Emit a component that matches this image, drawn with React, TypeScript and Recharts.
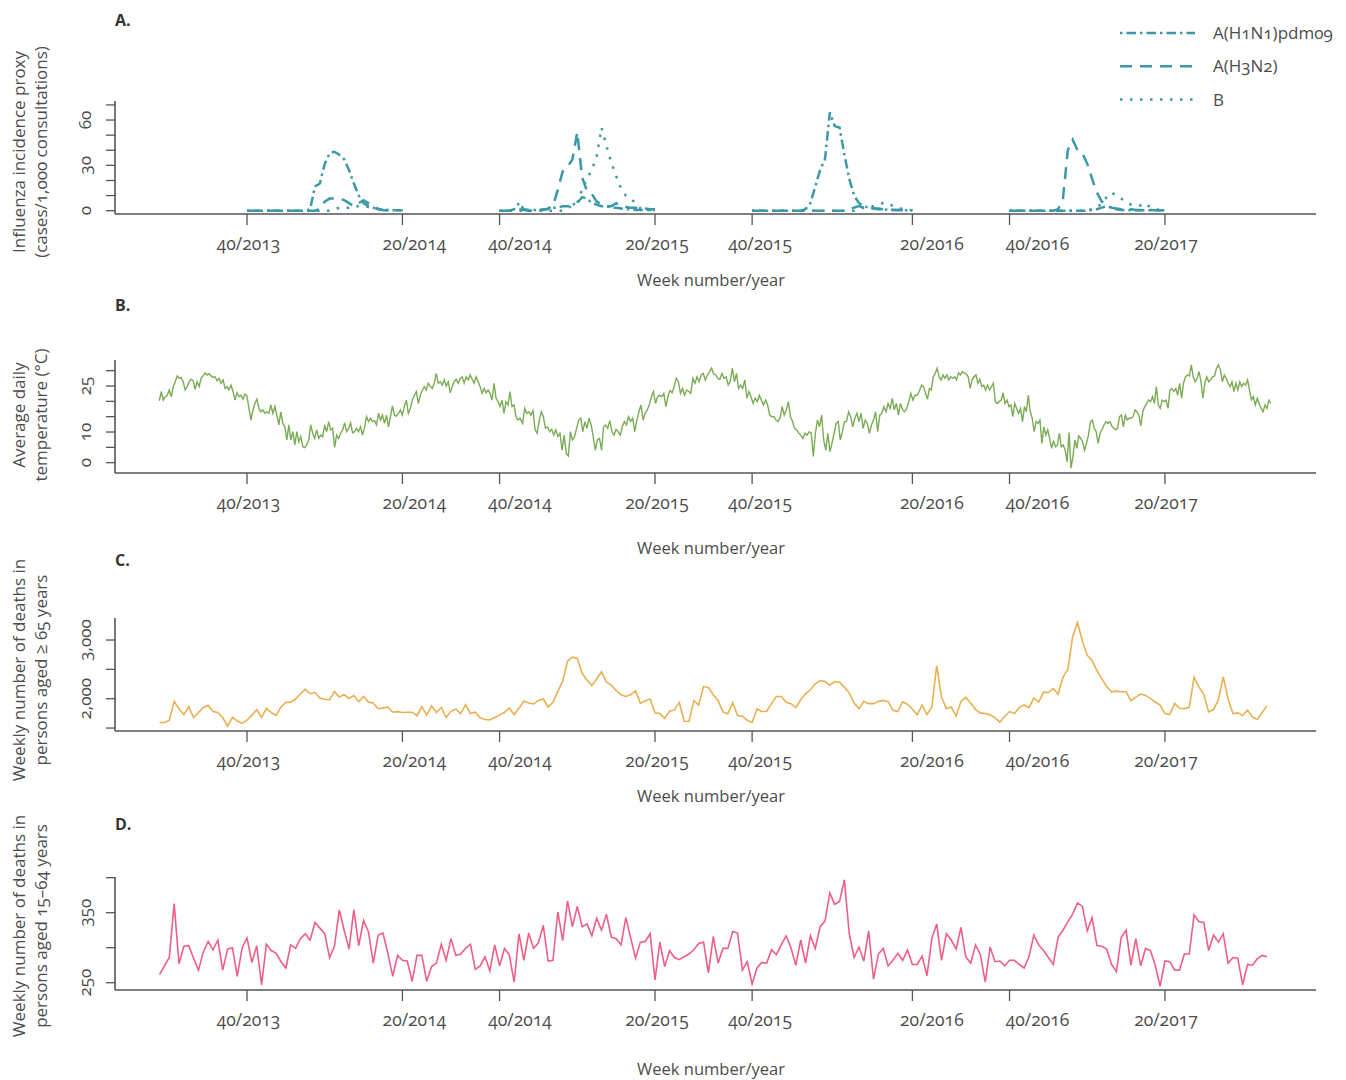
import React from 'react'
import { LineChart, Line, XAxis, YAxis } from 'recharts'

const FONT = "'Open Sans', 'DejaVu Sans', sans-serif"
const TEXT = '#4d4d4d'
const AXIS = '#555555'
const TEAL = '#3a98a7'
const GREEN = '#7aab55'
const ORANGE = '#e9b052'
const PINK = '#ef5e86'

// x is a week index: 0 = week 22/2013
const WEEK_TICKS = [18, 50, 70, 102, 122, 155, 175, 207]
const WEEK_TICK_LABELS = ['40/2013', '20/2014', '40/2014', '20/2015', '40/2015', '20/2016', '40/2016', '20/2017']
// in the original the labels sit a little right of their tick marks
const LABEL_SHIFT = [1.5, 12, 20.5, 2, 8, 19.5, 28, 1]
const X_DOMAIN: [number, number] = [-9.18, 238.1]

// A. influenza incidence proxy, one list per season (week 40 -> week 20)
const SEASON_START = [18, 70, 122, 175]
const H1N1 = [
  [0, 0, 0, 0, 0, 0, 0, 0, 0, 0, 0, 0, 0, 1, 16, 18, 31, 38, 39, 37, 34, 27, 18, 10, 5, 3, 2, 1, 0.5, 0.3, 0.2, 0.2, 0.2],
  [0, 0, 0, 1, 5, 1, 0.5, 0.5, 0.5, 1, 1, 2, 2, 3, 3, 4, 5, 9, 8, 5, 4, 3, 3, 2, 2, 1.5, 1, 1, 0.5, 0.5, 0.5, 0.5, 0.5],
  [0, 0, 0, 0, 0, 0, 0, 0, 0, 0, 0, 1, 5, 16, 27, 34, 65, 56, 55, 37, 21, 10, 5, 3, 2, 1.5, 1, 1, 0.5, 0.5, 0.5, 0.3, 0.3, 0.3],
  [0, 0, 0, 0, 0, 0, 0, 0, 0, 0, 0, 0, 0, 0, 0, 0, 0, 0.5, 1, 2, 3, 2, 1, 0.5, 0.3, 0.3, 0.3, 0.3, 0.3, 0.3, 0.3, 0.3, 0.3],
]
const H3N2 = [
  [0, 0, 0, 0, 0, 0, 0, 0, 0, 0, 0, 0, 0, 0, 0, 1, 6, 8, 8, 8, 7, 5, 3, 5, 7, 5, 2, 1, 0.5, 0.3, 0.2, 0.2, 0.2],
  [0, 0, 0, 0, 1, 0.5, 0, 0, 0, 0.5, 1.5, 3, 14, 26, 29, 34, 52, 22, 13, 11, 6, 4, 3, 3, 5, 3, 2.5, 2, 2, 1.5, 1.5, 1, 1],
  [0, 0, 0, 0, 0, 0, 0, 0, 0, 0, 0, 0, 0, 0, 0, 0, 0, 0, 0, 0, 1, 2, 3, 2, 2, 1.5, 1.5, 1, 1, 0.5, 0.5, 0.3, 0.3, 0.3],
  [0, 0, 0, 0, 0, 0, 0, 0, 0, 0, 1, 8, 40, 47, 40, 38, 31, 21, 12, 6, 4, 2, 1.5, 1, 1, 1, 0.5, 0.5, 0.5, 0.5, 0.3, 0.3, 0.3],
]
const FLU_B = [
  [0, 0, 0, 0, 0, 0, 0, 0, 0, 0, 0, 0, 0, 0, 0, 0, 0, 0, 1, 2, 2, 2, 3, 3, 3, 2.5, 2, 1.5, 1, 0.5, 0.3, 0.2, 0.2],
  [0, 0, 0, 0, 0, 0, 0, 0, 0, 0, 0, 0, 0, 0, 2, 3, 5, 14, 21, 27, 36, 55, 43, 32, 23, 15, 10, 8, 5, 1.5, 1, 0.5, 0.5],
  [0, 0, 0, 0, 0, 0, 0, 0, 0, 0, 0, 0, 0, 0, 0, 0, 0, 0, 0, 0, 0, 0, 1, 2, 3, 3, 4, 5, 5, 3, 2, 1, 0.5, 0.3],
  [0, 0, 0, 0, 0, 0, 0, 0, 0, 0, 0, 0, 0, 0, 0, 0, 0, 1, 2, 5, 9, 12, 10, 8, 6, 4, 4, 3.5, 5, 2, 1, 0.5, 0.5],
]

const TEMP_SPANS = [[-0.06, 74.2], [74.75, 156.4], [156.9, 228.8]]
const TEMP_2013_14 = [
  20.2, 23.2, 20.4, 21.5, 22, 23.7, 21.5, 24.8, 26.4, 28.3,
  27.5, 27.8, 26.4, 23.7, 24.8, 26.4, 27.2, 26.7, 23.9, 26.4,
  24.8, 27.5, 28.3, 29.3, 28.6, 29.1, 28.3, 27.8, 28, 26.7,
  27.5, 25.9, 27, 24.2, 24.8, 23.7, 25.3, 23.2, 20.4, 22.8,
  21.5, 22, 20.7, 22.4, 21.7, 17.7, 13.9, 17.2, 19.3, 20.7,
  17.7, 16.6, 17.2, 16.1, 16.6, 16.1, 18.8, 16.1, 18.3, 15.5,
  12.3, 16.6, 12.8, 11.7, 7.4, 12.3, 7.4, 10.1, 5.8, 10.1,
  6.8, 8.5, 5.2, 4.9, 5.8, 7.4, 12.3, 9.6, 7.9, 10.7,
  7.9, 9, 8.5, 12.3, 10.1, 13.4, 10.7, 11.2, 5, 9,
  7.9, 9.6, 10.7, 13, 10.1, 11.2, 13, 9.8, 10.1, 11.2,
  10.1, 11.7, 9, 11.5, 15, 13.4, 14.5, 13.4, 13.7, 12.3,
  16.1, 13.9, 15.5, 12.8, 15.5, 11.7, 15, 18.5, 15.5, 15.2,
  16.1, 17.2, 15.5, 18.5, 20.4, 16.1, 17.7, 20.4, 22, 23.2,
  19.3, 22, 23.7, 24.8, 23.7, 25.9, 24.8, 24.2, 25.9, 29.1,
  25.9, 26.4, 25.3, 27, 25, 26.4, 22.8, 24.8, 26.4, 27.2,
  25.9, 27.5, 28, 25.9, 28, 27, 28.6, 27.2, 25.9, 28,
  26.4, 24.8, 22.6, 24.2, 22.8, 23.7, 22.6, 20.4, 25.9, 21,
  19.9, 18.3, 20.4, 16.1, 19.9, 18.8, 23.2, 18.3, 18.8, 15,
  13.9, 14.5,
]
const TEMP_2014_16 = [
  12.8, 17.7, 16.1, 16.6, 15.5, 17, 10.7, 9.6, 13.9, 16.6,
  15, 11.2, 11.7, 10.1, 10.9, 9, 10.7, 8.5, 9.6, 4.1,
  9, 3, 2.2, 10.1, 7.4, 8.5, 11.2, 13.9, 14.5, 10.1,
  13.4, 11.2, 14.5, 12.3, 8.5, 4.1, 7.4, 7.9, 4.1, 11.7,
  12.3, 11.2, 13.7, 10.1, 9, 10.9, 10.1, 9, 11.7, 13.4,
  12.3, 15, 13.4, 14.5, 10.1, 13.9, 16.6, 18.8, 13.9, 16.1,
  17.2, 18.8, 21.5, 23.2, 19.3, 21.5, 22, 21.5, 22.6, 18.3,
  21.5, 23.5, 22.8, 24.8, 27.5, 26.4, 22.6, 24.2, 22, 23.7,
  23.2, 22.6, 27.5, 25.9, 28, 26.4, 28.6, 29.1, 27, 28.6,
  29.7, 30.8, 28.9, 28.6, 27.5, 27.2, 29.1, 27.5, 28, 25.3,
  26.4, 30.8, 26.4, 29.1, 24.2, 25.3, 24.2, 27, 21, 23.2,
  21.5, 19.3, 21, 19.9, 22, 20.4, 18.8, 20.4, 18.8, 15.5,
  15, 15, 13.9, 13.4, 14.5, 18.3, 15.5, 17.2, 19.9, 15,
  13.4, 11.2, 10.7, 9.6, 9, 7.9, 9.6, 9, 10.1, 9.6,
  2, 9.6, 13.9, 11.7, 15.5, 7.4, 4.1, 9.6, 3.6, 6.3,
  9.6, 12.8, 13.4, 7.4, 10.1, 13.4, 13.4, 16.6, 15, 11.7,
  14.5, 16.1, 13.4, 16.1, 11.2, 13.9, 12.8, 9.6, 12.3, 13.9,
  16.6, 10.1, 15.5, 16.1, 18.3, 16.6, 19.3, 17.7, 21, 17.2,
  19.3, 15.5, 19.3, 17.2, 16.6, 17.7, 19.9, 22.6, 20.4, 22,
  22, 23.2,
]
const TEMP_2016_17 = [
  25.3, 24.8, 22.6, 20.7, 24.2, 23.7, 28, 29.1, 30.8, 28,
  27, 28.6, 27.5, 28.6, 27, 28, 27.5, 28, 27, 29.3,
  28.6, 29.7, 29.3, 28.9, 28, 24.2, 27, 28, 28.6, 25.9,
  27.2, 24.8, 25.3, 23.7, 25.3, 23.7, 24.8, 25.9, 19.9, 19.3,
  19.9, 20.4, 22.8, 19.3, 20.4, 18.3, 18.8, 15, 19.3, 17.7,
  16.1, 17.7, 13.4, 18.3, 16.6, 22, 16.6, 14.5, 10.1, 13.4,
  12.8, 13.9, 6.3, 11.7, 9, 10.7, 7.9, 4.7, 7, 5.2,
  5.8, 9.6, 5.2, 5.8, 4.1, 0.3, 9.8, -1.8, 2, 7.4,
  4.7, 8.7, 7.9, 6.8, 4.1, 6.3, 9, 13.4, 13.9, 11.2,
  10.1, 6.3, 9.6, 10.9, 12.3, 13.4, 12.8, 13.4, 12, 11.2,
  10.7, 11.2, 15, 15.5, 11.7, 15.5, 13.9, 14.5, 14.5, 15,
  17.2, 16.6, 15.5, 12, 16.6, 18.3, 19.3, 20.4, 19.9, 21.5,
  19.3, 24.8, 18.8, 17.7, 20.4, 19.9, 20.4, 17.7, 23.7, 24.2,
  23.2, 24.2, 22, 25.9, 21, 25.9, 28, 28.6, 28.3, 31.9,
  28, 26.4, 27.5, 29.7, 26.4, 21, 25.9, 28, 26.4, 27,
  28, 28.3, 30.8, 31.9, 30.2, 26.4, 28.6, 27.5, 25.9, 24.8,
  26.4, 23.2, 25.9, 23.7, 26.4, 24.8, 25.9, 25.3, 27, 23.7,
  20.4, 21.5, 18.8, 21, 19.3, 17.7, 16.6, 18.8, 17.7, 20.4,
  19.3,
]

// C. weekly deaths, aged >= 65 (week 22/2013 onwards)
const DEATHS_65 = [
  1595, 1595, 1634, 1955, 1830, 1730, 1865, 1680, 1765, 1850,
  1890, 1780, 1765, 1680, 1533, 1680, 1620, 1580, 1634, 1720,
  1815, 1680, 1837, 1765, 1715, 1860, 1938, 1940, 1995, 2080,
  2163, 2085, 2105, 2010, 1990, 1985, 2120, 2030, 2070, 2005,
  2055, 1948, 2040, 1945, 1925, 1830, 1840, 1860, 1770, 1780,
  1765, 1770, 1770, 1710, 1865, 1720, 1880, 1765, 1850, 1680,
  1785, 1820, 1745, 1900, 1747, 1770, 1675, 1645, 1640, 1680,
  1720, 1765, 1843, 1730, 1836, 1960, 1927, 1910, 1972, 1995,
  1860, 1938, 2123, 2303, 2640, 2708, 2686, 2433, 2320, 2225,
  2337, 2460, 2281, 2231, 2140, 2067, 2039, 2067, 2135, 1921,
  1966, 1995, 1759, 1747, 1663, 1786, 1809, 1938, 1617, 1612,
  1966, 1893, 2207, 2191, 2067, 1966, 1775, 1742, 1933, 1713,
  1702, 1634, 1595, 1826, 1781, 1786, 1916, 2039, 2039, 1938,
  1916, 1848, 1983, 2084, 2152, 2253, 2308, 2292, 2231, 2292,
  2281, 2197, 2096, 1927, 1831, 1955, 1916, 1916, 1955, 1972,
  1950, 1803, 1781, 1949, 1904, 1826, 1725, 1893, 1730, 1860,
  2562, 2028, 1831, 1860, 1702, 1955, 2022, 1927, 1815, 1759,
  1747, 1725, 1675, 1600, 1702, 1781, 1747, 1848, 1893, 1848,
  2011, 1944, 2112, 2106, 2174, 2079, 2366, 2500, 3062, 3298,
  2983, 2742, 2646, 2478, 2337, 2208, 2118, 2129, 2118, 2118,
  1966, 2028, 2079, 2056, 2005, 1944, 1893, 1747, 1730, 1921,
  1836, 1831, 1854, 2366, 2197, 2073, 1775, 1815, 1983, 2371,
  1995, 1747, 1759, 1713, 1809, 1691, 1646, 1760, 1882,
]

// D. weekly deaths, aged 15-64
const DEATHS_15_64 = [
  262, 274, 286, 363, 277, 302, 303, 285, 268, 294,
  309, 297, 311, 268, 298, 300, 259, 300, 314, 279,
  303, 247, 305, 296, 292, 280, 271, 304, 299, 313,
  320, 311, 336, 328, 320, 286, 302, 354, 325, 298,
  354, 303, 339, 323, 278, 318, 321, 292, 259, 289,
  282, 281, 252, 289, 289, 252, 273, 278, 305, 282,
  313, 289, 291, 299, 305, 269, 274, 287, 267, 304,
  274, 299, 290, 251, 320, 282, 321, 299, 307, 332,
  281, 282, 351, 310, 367, 330, 359, 330, 334, 317,
  342, 325, 348, 315, 313, 304, 343, 314, 285, 308,
  309, 320, 254, 308, 273, 296, 286, 283, 287, 291,
  297, 306, 308, 264, 316, 278, 299, 299, 323, 321,
  268, 280, 248, 271, 279, 278, 297, 290, 304, 317,
  300, 275, 311, 278, 317, 299, 330, 338, 378, 362,
  366, 397, 320, 286, 301, 281, 324, 255, 291, 299,
  274, 282, 292, 282, 297, 276, 276, 288, 260, 313,
  334, 282, 320, 311, 298, 329, 287, 278, 304, 290,
  251, 301, 280, 281, 274, 282, 282, 276, 271, 287,
  318, 304, 296, 286, 276, 315, 325, 337, 348, 364,
  359, 324, 343, 303, 302, 298, 276, 266, 315, 325,
  275, 313, 274, 299, 296, 275, 245, 281, 280, 268,
  268, 291, 291, 347, 337, 336, 296, 318, 308, 320,
  278, 286, 285, 247, 276, 275, 284, 289, 287,
]

const FLU_SERIES = [
  { key: 'h1n1', name: 'A(H1N1)pdm09', dash: '2.5 4 9.5 4' },
  { key: 'h3n2', name: 'A(H3N2)', dash: '12 8' },
  { key: 'b', name: 'B', dash: '2.5 7.5' },
]

const fluData = DEATHS_65.map((_, w) => {
  const row: any = { x: w, h1n1: null, h3n2: null, b: null }
  SEASON_START.forEach((s, k) => {
    const j = w - s
    if (j >= 0 && j < H1N1[k].length) {
      row.h1n1 = H1N1[k][j]
      row.h3n2 = H3N2[k][j]
      row.b = FLU_B[k][j]
    }
  })
  return row
})

const tempData = [TEMP_2013_14, TEMP_2014_16, TEMP_2016_17].flatMap((vals, k) => {
  const [a, b] = TEMP_SPANS[k]
  return vals.map((t, i) => ({ x: a + (i * (b - a)) / (vals.length - 1), t }))
})
const old65Data = DEATHS_65.map((v, i) => ({ x: i, v }))
const workData = DEATHS_15_64.map((v, i) => ({ x: i, v }))

const numStyle = { fontVariantNumeric: 'oldstyle-nums' as const }

function XTick({ x, y, payload }: any) {
  const i = WEEK_TICKS.indexOf(payload.value)
  return (
    <text x={x + LABEL_SHIFT[i]} y={y + 23} textAnchor="middle" fill={TEXT} fontSize={17.5} fontFamily={FONT} style={numStyle}>
      {WEEK_TICK_LABELS[i]}
    </text>
  )
}

function makeYTick(shown: number[]) {
  return ({ x, y, payload }: any) => {
    if (!shown.includes(payload.value)) return <g />
    const bx = x - 13
    return (
      <text x={bx} y={y} transform={`rotate(-90 ${bx} ${y})`} textAnchor="middle" fill={TEXT} fontSize={17} fontFamily={FONT} style={numStyle}>
        {payload.value.toLocaleString('en-US')}
      </text>
    )
  }
}

function Panel({ top, domain, ticks, shown, data, children }: any) {
  return (
    <div style={{ position: 'absolute', left: 0, top: top - 10 }}>
      <LineChart width={1346} height={168} data={data} margin={{ top: 10, right: 30, bottom: 0, left: 0 }}>
        <XAxis
          type="number"
          dataKey="x"
          domain={X_DOMAIN}
          ticks={WEEK_TICKS}
          interval={0}
          height={45}
          tickSize={11}
          axisLine={{ stroke: AXIS, strokeWidth: 1.6 }}
          tickLine={{ stroke: AXIS, strokeWidth: 1.3 }}
          tick={<XTick />}
          allowDataOverflow
        />
        <YAxis
          type="number"
          domain={domain}
          ticks={ticks}
          interval={0}
          width={115}
          tickSize={9}
          axisLine={{ stroke: AXIS, strokeWidth: 1.6 }}
          tickLine={{ stroke: AXIS, strokeWidth: 1.3 }}
          tick={makeYTick(shown)}
          allowDataOverflow
        />
        {children}
      </LineChart>
    </div>
  )
}

const TITLES = [
  { t: 'A.', y: 26, xlab: 286, mid: 152, lines: ['Influenza incidence proxy', '(cases/1,000 consultations)'] },
  { t: 'B.', y: 311, xlab: 554, mid: 415, lines: ['Average daily', 'temperature (°C)'] },
  { t: 'C.', y: 566, xlab: 802, mid: 670, lines: ['Weekly number of deaths in', 'persons aged ≥ 65 years'] },
  { t: 'D.', y: 830, xlab: 1075, mid: 926, lines: ['Weekly number of deaths in', 'persons aged 15–64 years'] },
]

export default function App() {
  return (
    <div style={{ position: 'absolute', left: 0, top: 0, width: 1346, height: 1080, background: '#fff', fontFamily: FONT }}>
      <Panel top={101} domain={[-2.2, 72.6]} ticks={[0, 10, 20, 30, 40, 50, 60, 70]} shown={[0, 30, 60]} data={fluData}>
        {FLU_SERIES.map((s) => (
          <Line
            key={s.key}
            type="linear"
            dataKey={s.key}
            stroke={TEAL}
            strokeWidth={2.5}
            strokeDasharray={s.dash}
            dot={false}
            activeDot={false}
            connectNulls={false}
            isAnimationActive={false}
          />
        ))}
      </Panel>
      <Panel top={360} domain={[-3.36, 33.48]} ticks={[0, 5, 10, 15, 20, 25, 30]} shown={[0, 10, 25]} data={tempData}>
        <Line type="linear" dataKey="t" stroke={GREEN} strokeWidth={1.4} dot={false} activeDot={false} isAnimationActive={false} />
      </Panel>
      <Panel top={618} domain={[1450, 3375]} ticks={[1500, 2000, 2500, 3000]} shown={[2000, 3000]} data={old65Data}>
        <Line type="linear" dataKey="v" stroke={ORANGE} strokeWidth={1.6} dot={false} activeDot={false} isAnimationActive={false} />
      </Panel>
      <Panel top={877} domain={[239.6, 401]} ticks={[250, 300, 350, 400]} shown={[250, 350]} data={workData}>
        <Line type="linear" dataKey="v" stroke={PINK} strokeWidth={1.6} dot={false} activeDot={false} isAnimationActive={false} />
      </Panel>

      <svg width={1346} height={1080} style={{ position: 'absolute', left: 0, top: 0, pointerEvents: 'none' }}>
        {TITLES.map((p) => (
          <g key={p.t} fontFamily={FONT} style={numStyle}>
            <text x={115} y={p.y} fontSize={16} fontWeight={700} fill="#333">{p.t}</text>
            <text x={711} y={p.xlab} fontSize={16.5} fill={TEXT} textAnchor="middle">Week number/year</text>
            {p.lines.map((l, i) => (
              <text key={l} x={25 + i * 22} y={p.mid} fontSize={17} fill={TEXT} textAnchor="middle" transform={`rotate(-90 ${25 + i * 22} ${p.mid})`}>
                {l}
              </text>
            ))}
          </g>
        ))}
        {FLU_SERIES.map((s, i) => (
          <g key={s.key}>
            <line x1={1120} x2={1195} y1={33 + i * 33.3} y2={33 + i * 33.3} stroke={TEAL} strokeWidth={2.5} strokeDasharray={s.dash} />
            <text x={1213} y={39 + i * 33.3} fontSize={17} fill={TEXT} fontFamily={FONT} style={numStyle}>{s.name}</text>
          </g>
        ))}
      </svg>
    </div>
  )
}
